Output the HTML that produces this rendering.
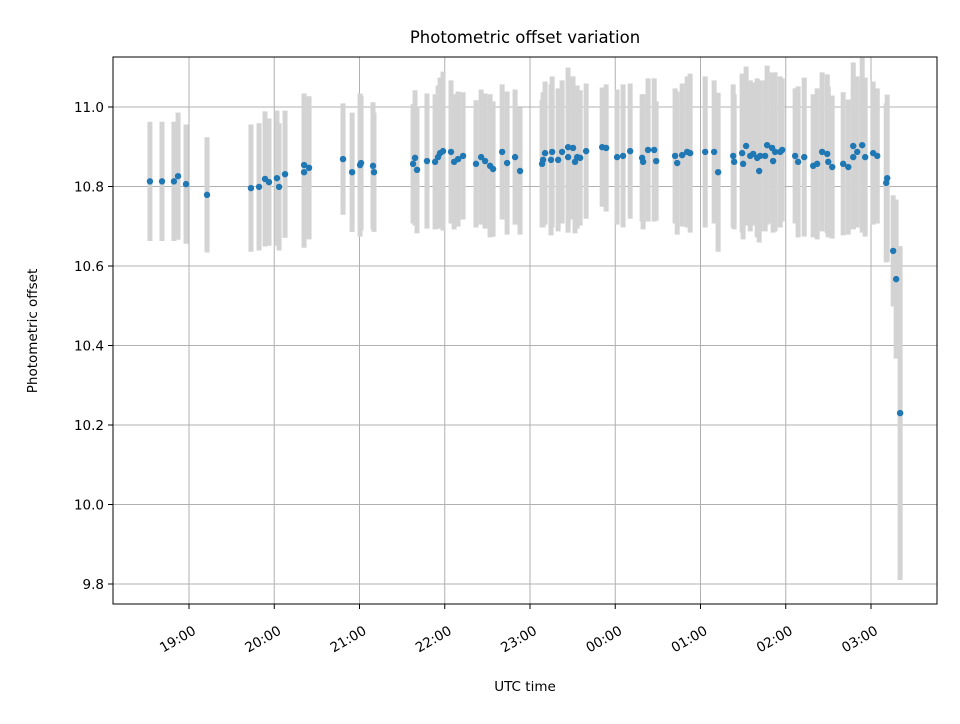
<!DOCTYPE html>
<html><head><meta charset="utf-8"><style>
body{margin:0;background:#fff;font-family:"DejaVu Sans","Liberation Sans",sans-serif}
svg text{font-family:"DejaVu Sans","Liberation Sans",sans-serif}
</style></head><body>
<svg id="chart" width="960" height="720" xmlns="http://www.w3.org/2000/svg">
<rect width="960" height="720" fill="#fff"/>
<g id="grid"></g><g id="bars"></g><g id="pts"></g>
<rect x="113" y="57" width="824" height="547" fill="none" stroke="#000" stroke-width="1"/>
<g id="axes"></g>
<text x="525" y="43" text-anchor="middle" font-size="16.5">Photometric offset variation</text>
<text x="525" y="691" text-anchor="middle" font-size="13.5">UTC time</text>
<text transform="translate(37,331) rotate(-90)" text-anchor="middle" font-size="13.5">Photometric offset</text>
</svg>
<script>
// minutes after 18:00 UTC
const times=[32.5,41,49.4,52.3,57.9,72.7,
103.6,109.3,113.5,116.3,121.9,123.4,127.6,141,141,144.5,168.4,174.8,180.4,181.1,189.5,190.2,
217.7,219.1,220.5,227.5,233.2,235.3,236.7,238.8,244.4,246.6,249.4,252.9,262,265.6,268.4,271.9,274,280.4,283.9,289.5,293,
308.5,309.2,310.6,315.6,314.8,319.8,322.6,326.8,326.8,330.3,333.2,335.3,331.7,339.5,350.8,353.6,361.3,365.5,370.5,378.9,379.6,383.1,387.4,388.8,
402.1,403.6,407.1,410.6,412.7,423.3,429.6,432.4,443,443.7,449.3,450,452.1,455,457.1,459.9,462,461.3,465.5,466.9,470.4,471.1,472.5,476.1,477.5,
486.6,488.7,493,499.3,502.1,505.6,509.2,509.9,512.7,520.4,524,527.5,527.5,530.3,533.8,535.9,541.5,544.4,550.7,551.4,555.6,557.7,560.5];
const offsets=[10.813,10.813,10.813,10.826,10.806,10.779,
10.796,10.799,10.819,10.811,10.821,10.799,10.831,10.836,10.854,10.847,10.869,10.836,10.854,10.859,10.852,10.836,
10.857,10.872,10.842,10.864,10.862,10.874,10.884,10.889,10.887,10.862,10.869,10.877,10.857,10.874,10.864,10.852,10.844,10.887,10.859,10.874,10.839,
10.857,10.867,10.884,10.887,10.867,10.867,10.887,10.899,10.874,10.897,10.874,10.872,10.862,10.889,10.899,10.897,10.874,10.877,10.889,10.872,10.862,10.892,10.892,10.864,
10.877,10.859,10.879,10.887,10.884,10.887,10.887,10.836,10.877,10.862,10.884,10.857,10.902,10.877,10.882,10.872,10.877,10.839,10.877,10.904,10.897,10.864,10.887,10.887,10.892,
10.877,10.862,10.874,10.852,10.857,10.887,10.882,10.862,10.849,10.857,10.849,10.902,10.874,10.887,10.904,10.874,10.884,10.877,10.809,10.821,10.638,10.567,10.23];
const errs=[0.15,0.15,0.15,0.16,0.15,0.145,
0.16,0.16,0.17,0.16,0.17,0.16,0.16,0.19,0.18,0.18,0.14,0.15,0.18,0.17,0.16,0.15,
0.15,0.17,0.16,0.17,0.17,0.18,0.19,0.2,0.18,0.17,0.17,0.16,0.16,0.17,0.17,0.18,0.17,0.17,0.18,0.17,0.16,
0.16,0.17,0.18,0.19,0.19,0.18,0.18,0.2,0.19,0.18,0.18,0.17,0.18,0.17,0.15,0.16,0.17,0.18,0.17,0.16,0.17,0.18,0.18,0.15,
0.17,0.18,0.18,0.19,0.2,0.19,0.18,0.2,0.18,0.17,0.2,0.19,0.2,0.19,0.18,0.2,0.19,0.18,0.19,0.2,0.19,0.18,0.2,0.19,0.18,
0.17,0.19,0.2,0.18,0.19,0.2,0.2,0.19,0.18,0.18,0.17,0.21,0.18,0.19,0.22,0.2,0.18,0.17,0.2,0.21,0.14,0.2,0.42];
const xTickLabels=["19:00","20:00","21:00","22:00","23:00","00:00","01:00","02:00","03:00"];
const xTickMinutes=[60,120,180,240,300,360,420,480,540];
const yTickValues=[9.8,10.0,10.2,10.4,10.6,10.8,11.0];
const NS="http://www.w3.org/2000/svg";
const X=m=>189+(m-60)*85.25/60;
const Y=v=>107+(11-v)*397.5;
function mk(tag,attrs,parent){const e=document.createElementNS(NS,tag);for(const k in attrs)e.setAttribute(k,attrs[k]);document.getElementById(parent).appendChild(e);return e;}
xTickMinutes.forEach((m,i)=>{
 const g=mk('line',{x1:X(m),x2:X(m),y1:57,y2:604,stroke:'#b0b0b0','stroke-width':1},'grid');
 
 
 const t=mk('line',{x1:X(m),x2:X(m),y1:604,y2:609,stroke:'#000'},'axes');
 
 
 const lx=X(m)+3, ly=625;
 const l=mk('text',{x:lx,y:ly,'text-anchor':'end','dominant-baseline':'hanging','font-size':13.5,transform:`rotate(-30 ${lx} ${ly})`},'axes');
 l.textContent=xTickLabels[i];
 
 
});
yTickValues.forEach(v=>{
 const g=mk('line',{x1:113,x2:937,y1:Y(v),y2:Y(v),stroke:'#b0b0b0','stroke-width':1},'grid');
 
 
 const t=mk('line',{x1:108,x2:113,y1:Y(v),y2:Y(v),stroke:'#000'},'axes');
 
 
 const l=mk('text',{x:104,y:Y(v)+5,'text-anchor':'end','font-size':13.5},'axes');
 l.textContent=v.toFixed(1);
 
 
});
times.forEach((m,i)=>{
 const b=mk('line',{x1:X(m),x2:X(m),y1:Y(offsets[i]+errs[i]),y2:Y(offsets[i]-errs[i]),stroke:'#d3d3d3','stroke-width':5},'bars');
 
 
});
times.forEach((m,i)=>{
 const c=mk('circle',{cx:X(m),cy:Y(offsets[i]),r:3.2,fill:'#1f77b4'},'pts');
 
 
});
</script>
</body></html>
